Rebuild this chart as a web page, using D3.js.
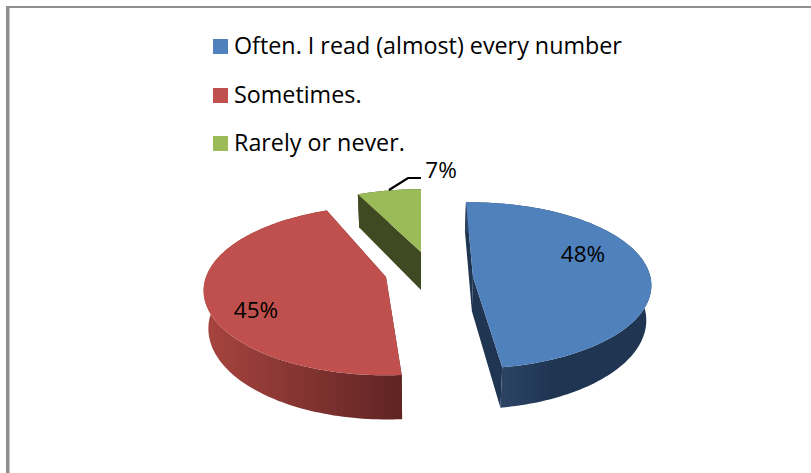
<!DOCTYPE html>
<html><head><meta charset="utf-8">
<script src="https://cdn.jsdelivr.net/npm/d3@7"></script>
<style>html,body{margin:0;padding:0;background:#fff}svg{display:block}text{font-family:"Open Sans",Lato,sans-serif;fill:#000}</style>
</head><body><svg id="c" width="811" height="473"></svg>
<script>
const categories = ["Often. I read (almost) every number", "Sometimes.", "Rarely or never."];
const values = [48, 45, 7];
const colors = ["#4f81bd", "#c0504d", "#9bbb59"];
const wallDark = ["#1f3552", "#5f2423", "#3f4a22"];
const wallLight = ["#2c4364", "#a8443f", "#3f4a22"];
const labelText = ["48%", "45%", "7%"];

// layout of the exploded slices
const centres = [[470, 272], [386, 277], [421, 252]];
const apexShift = [[3, 5], [0, 0], [0, 0]];
const rotation = [-1.5, 3, 0];
const radiusX = [179, 180, 170];
const radiusY = [81, 82.5, 73];
const depths = [34, 37, 38];
const labelPos = [[583, 262], [256, 318], [441, 178]];
const D = 6.2, VX = 420, CONV = 0.022;

const svg = d3.select("#c");
const defs = svg.append("defs");

// frame
svg.append("rect").attr("x", 6).attr("y", 6).attr("width", 3.5).attr("height", 467).attr("fill", "#8f8f8f");
svg.append("rect").attr("x", 6).attr("y", 6).attr("width", 805).attr("height", 2).attr("fill", "#8f8f8f");

const arcs = d3.pie().sort(null).value(d => d)(values);

function project(i, theta, r) {
  const a = theta + rotation[i] * Math.PI / 180;
  const v = -Math.cos(a) * r;
  const s = D / (D - v);
  return { x: centres[i][0] + radiusX[i] * r * Math.sin(a) * s, y: centres[i][1] + radiusY[i] * v * s, s };
}
function drop(i, p) {
  return { x: p.x + (VX - p.x) * CONV, y: p.y + depths[i] * p.s };
}
const line = d3.line().x(d => d.x).y(d => d.y);

const order = [2, 1, 0];
order.forEach(i => {
  const d = arcs[i];
  const n = 120;
  const rim = d3.range(n + 1).map(k => project(i, d.startAngle + (d.endAngle - d.startAngle) * k / n, 1));
  const base = project(i, 0, 0);
  const apex = { x: base.x + apexShift[i][0], y: base.y + apexShift[i][1], s: 1 };
  const g = svg.append("g");

  const xs = d3.extent(rim, p => p.x);
  const gid = "w" + i;
  const lg = defs.append("linearGradient").attr("id", gid).attr("gradientUnits", "userSpaceOnUse")
    .attr("x1", i === 0 ? rim[n].x : xs[0]).attr("x2", i === 0 ? rim[n].x + 50 : xs[1]).attr("y1", 0).attr("y2", 0);
  lg.append("stop").attr("offset", 0).attr("stop-color", wallLight[i]);
  lg.append("stop").attr("offset", 1).attr("stop-color", wallDark[i]);

  // cut walls
  [rim[0], rim[n]].forEach(p => {
    const q = [apex, p, drop(i, p), drop(i, apex)];
    g.append("path").attr("d", line(q) + "Z").attr("fill", wallDark[i]);
  });
  // outer wall
  const wall = rim.concat(rim.map(p => drop(i, p)).reverse());
  g.append("path").attr("d", line(wall) + "Z").attr("fill", `url(#${gid})`);
  // top
  g.append("path").attr("d", line([apex].concat(rim)) + "Z").attr("fill", colors[i]);
});

// legend
const legendY = [39, 88, 136];
categories.forEach((c, i) => {
  svg.append("rect").attr("x", 213).attr("y", legendY[i]).attr("width", 15).attr("height", 15).attr("fill", colors[i]);
  svg.append("text").attr("x", 234).attr("y", legendY[i] + 15).attr("font-size", 23.3).text(c);
});

// labels
labelText.forEach((t, i) => {
  svg.append("text").attr("x", labelPos[i][0]).attr("y", labelPos[i][1]).attr("text-anchor", "middle").attr("font-size", 22.5).text(t);
});
// leader line for the small slice
svg.append("path").attr("d", line([{x:389,y:190},{x:408,y:178},{x:421,y:178}])).attr("fill", "none").attr("stroke", "#000").attr("stroke-width", 2.2);
</script></body></html>
